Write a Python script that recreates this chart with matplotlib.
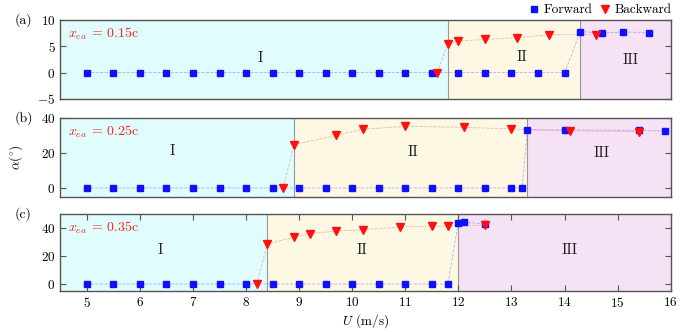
import matplotlib
matplotlib.use("Agg")
import matplotlib.pyplot as plt

plt.rcParams["font.family"] = "serif"
plt.rcParams["font.serif"] = ["cmr10", "DejaVu Serif"]
plt.rcParams["mathtext.fontset"] = "cm"
plt.rcParams["axes.formatter.use_mathtext"] = True
plt.rcParams["font.size"] = 9.5

# ---- data ----
labels = ["(a)", "(b)", "(c)"]
xea_labels = ["0.15", "0.25", "0.35"]

fwd_u_a = [5, 5.5, 6, 6.5, 7, 7.5, 8, 8.5, 9, 9.5, 10, 10.5, 11, 11.5, 12, 12.5, 13, 13.5, 14, 14.3, 14.7, 15.1, 15.6]
fwd_a_a = [0] * 19 + [7.8, 7.5, 7.7, 7.6]
bwd_u_a = [11.6, 11.8, 12.0, 12.5, 13.1, 13.7, 14.6]
bwd_a_a = [0, 5.5, 6.0, 6.3, 6.6, 7.2, 7.2]

fwd_u_b = [5, 5.5, 6, 6.5, 7, 7.5, 8, 8.5, 9, 9.5, 10, 10.5, 11, 11.5, 12, 12.5, 13, 13.2, 13.3, 14.0, 15.4, 15.9]
fwd_a_b = [0] * 18 + [33.0, 33.0, 32.8, 32.4]
bwd_u_b = [8.7, 8.9, 9.7, 10.2, 11.0, 12.1, 13.0, 14.1, 15.4]
bwd_a_b = [0, 24.6, 29.9, 33.4, 35.1, 34.5, 33.6, 32.5, 32.1]

fwd_u_c = [5, 5.5, 6, 6.5, 7, 7.5, 8, 8.5, 9, 9.5, 10, 10.5, 11, 11.5, 11.8, 12.0, 12.1, 12.5]
fwd_a_c = [0] * 15 + [43.8, 44.0, 43.0]
bwd_u_c = [8.2, 8.4, 8.9, 9.2, 9.7, 10.2, 10.9, 11.5, 11.8, 12.5]
bwd_a_c = [0, 28.4, 33.6, 36.0, 37.8, 38.8, 40.7, 41.3, 41.3, 42.0]

# region boundaries (I/II, II/III)
bounds = [(11.8, 14.3), (8.9, 13.3), (8.4, 12.0)]
ylims = [(-5, 10), (-5, 40), (-5, 50)]
yticks = [[-5, 0, 5, 10], [0, 20, 40], [0, 20, 40]]
region_text = [
    [(8.26, 2.8), (13.2, 3.0), (15.25, 2.4)],
    [(6.6, 20.9), (11.15, 20.5), (14.7, 19.6)],
    [(6.38, 24.2), (10.18, 24.0), (14.1, 24.0)],
]
fwd = [(fwd_u_a, fwd_a_a), (fwd_u_b, fwd_a_b), (fwd_u_c, fwd_a_c)]
bwd = [(bwd_u_a, bwd_a_a), (bwd_u_b, bwd_a_b), (bwd_u_c, bwd_a_c)]

c_I, c_II, c_III = "#e0fcfc", "#fdf8e3", "#f5e2f5"
spine_col = "#555555"

fig = plt.figure(figsize=(6.92, 3.32), dpi=100)
left, width = 0.0872, 0.882
boxes = [(0.702, 0.238), (0.4075, 0.238), (0.1235, 0.232)]
axes = [fig.add_axes([left, b, width, h]) for b, h in boxes]

for i, ax in enumerate(axes):
    b1, b2 = bounds[i]
    ax.axvspan(4.5, b1, color=c_I, zorder=0, lw=0)
    ax.axvspan(b1, b2, color=c_II, zorder=0, lw=0)
    ax.axvspan(b2, 16, color=c_III, zorder=0, lw=0)
    ax.axvline(b1, color="#999999", lw=0.8, zorder=1)
    ax.axvline(b2, color="#999999", lw=0.8, zorder=1)

    fu, fa = fwd[i]
    bu, ba = bwd[i]
    ax.plot(fu, fa, ls="--", lw=0.6, color="#8080ff", alpha=0.6, zorder=2)
    ax.plot(bu, ba, ls="--", lw=0.6, color="#ff8080", alpha=0.6, zorder=2)
    ax.plot(fu, fa, ls="none", marker="s", ms=4, color="#1010ff",
            label="Forward", zorder=3)
    ax.plot(bu, ba, ls="none", marker="v", ms=6, color="#ff1010",
            label="Backward", zorder=3)

    for txt, (tx, ty) in zip(["I", "II", "III"], region_text[i]):
        ax.text(tx, ty, txt, ha="center", va="center", fontsize=10.5,
                color="#222222")

    ax.text(0.013, 0.82, r"$x_{ea}$ = " + xea_labels[i] + "c",
            transform=ax.transAxes, color="#ff2020", fontsize=10,
            ha="left", va="center")
    ax.text(-0.075, 1.0, labels[i], transform=ax.transAxes,
            ha="left", va="center", fontsize=10)

    ax.set_xlim(4.5, 16)
    ax.set_ylim(*ylims[i])
    ax.set_yticks(yticks[i])
    ax.tick_params(axis="y", direction="in", right=True, length=4,
                   color=spine_col)
    for s in ax.spines.values():
        s.set_color(spine_col)
        s.set_linewidth(1.0)
    if i < 2:
        ax.set_xticks([])
    else:
        ax.set_xticks(range(5, 17))
        ax.tick_params(axis="x", direction="in", top=True, length=4,
                       color=spine_col)
        ax.set_xlabel(r"$U$ (m/s)", labelpad=2)

axes[1].set_ylabel(r"$\alpha(^{\circ})$", labelpad=4)
axes[1].yaxis.set_label_coords(-0.058, 0.5)

axes[0].legend(loc="lower right", bbox_to_anchor=(1.01, 0.98), ncol=2,
               frameon=False, handlelength=0.8, handletextpad=0.3,
               columnspacing=0.6, borderaxespad=0, fontsize=9.5)

fig.savefig("out.png", dpi=100)
